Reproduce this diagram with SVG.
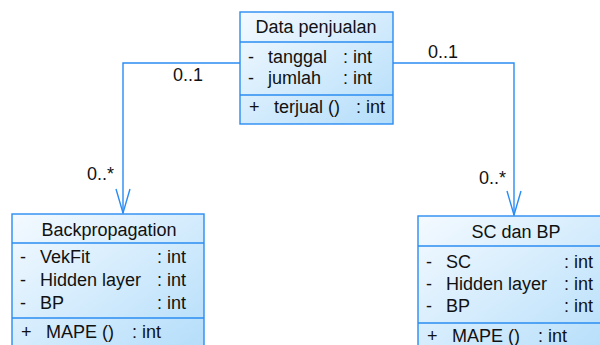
<svg xmlns="http://www.w3.org/2000/svg" width="600" height="345" viewBox="0 0 600 345">
  <defs>
    <linearGradient id="classFill" x1="0" y1="0" x2="1" y2="1">
      <stop offset="0" stop-color="#f4faff"/>
      <stop offset="1" stop-color="#b3ddfa"/>
    </linearGradient>
    <!-- open navigability arrowhead, drawn pointing along +x -->
    <marker id="openArrow" viewBox="0 0 26 16" refX="25" refY="8" markerWidth="26" markerHeight="16" markerUnits="userSpaceOnUse" orient="auto">
      <path d="M1,1 L25,8 L1,15" fill="none" stroke="#2a8cf2" stroke-width="1.4"/>
    </marker>
  </defs>
  <style>
    .box { fill: url(#classFill); stroke: #2a8cf2; stroke-width: 1.4; }
    .div { stroke: #2a8cf2; stroke-width: 1.4; }
    .edge { fill: none; stroke: #2a8cf2; stroke-width: 1.4; }
    text { font-family: "Liberation Sans", Arial, sans-serif; font-size: 18px; fill: #111; }
    .title { text-anchor: middle; }
  </style>
  <rect width="600" height="345" fill="#ffffff"/>

  <!-- associations -->
  <g id="connectors">
    <polyline class="edge" points="240,63 123,63 123,213" marker-end="url(#openArrow)"/>
    <polyline class="edge" points="393,63 514,63 514,215" marker-end="url(#openArrow)"/>
    <text x="173" y="81">0..1</text>
    <text x="87" y="180">0..*</text>
    <text x="428" y="58">0..1</text>
    <text x="479" y="184">0..*</text>
  </g>

  <!-- class: Data penjualan -->
  <g id="data-penjualan">
    <rect class="box" x="240" y="12" width="153" height="112"/>
    <line class="div" x1="240" y1="42" x2="393" y2="42"/>
    <line class="div" x1="240" y1="95" x2="393" y2="95"/>
    <text class="title" x="316" y="33">Data penjualan</text>
    <text x="248" y="63">-</text><text x="268" y="63">tanggal</text><text x="343" y="63">: int</text>
    <text x="248" y="84">-</text><text x="268" y="84">jumlah</text><text x="343" y="84">: int</text>
    <text x="249" y="113">+</text><text x="274" y="113">terjual ()</text><text x="356" y="113">: int</text>
  </g>

  <!-- class: Backpropagation -->
  <g id="backpropagation">
    <rect class="box" x="12" y="214" width="192" height="140"/>
    <line class="div" x1="12" y1="243" x2="204" y2="243"/>
    <line class="div" x1="12" y1="318" x2="204" y2="318"/>
    <text class="title" x="109" y="236">Backpropagation</text>
    <text x="20" y="263">-</text><text x="40" y="263">VekFit</text><text x="157" y="263">: int</text>
    <text x="20" y="286">-</text><text x="40" y="286">Hidden layer</text><text x="157" y="286">: int</text>
    <text x="20" y="309">-</text><text x="40" y="309">BP</text><text x="157" y="309">: int</text>
    <text x="21" y="338">+</text><text x="46" y="338">MAPE ()</text><text x="132" y="338">: int</text>
  </g>

  <!-- class: SC dan BP -->
  <g id="sc-dan-bp">
    <rect class="box" x="418" y="216" width="200" height="140"/>
    <line class="div" x1="418" y1="246" x2="618" y2="246"/>
    <line class="div" x1="418" y1="323" x2="618" y2="323"/>
    <text class="title" x="516" y="238">SC dan BP</text>
    <text x="426" y="268">-</text><text x="446" y="268">SC</text><text x="564" y="268">: int</text>
    <text x="426" y="290">-</text><text x="446" y="290">Hidden layer</text><text x="564" y="290">: int</text>
    <text x="426" y="312">-</text><text x="446" y="312">BP</text><text x="564" y="312">: int</text>
    <text x="427" y="342">+</text><text x="452" y="342">MAPE ()</text><text x="538" y="342">: int</text>
  </g>
</svg>
